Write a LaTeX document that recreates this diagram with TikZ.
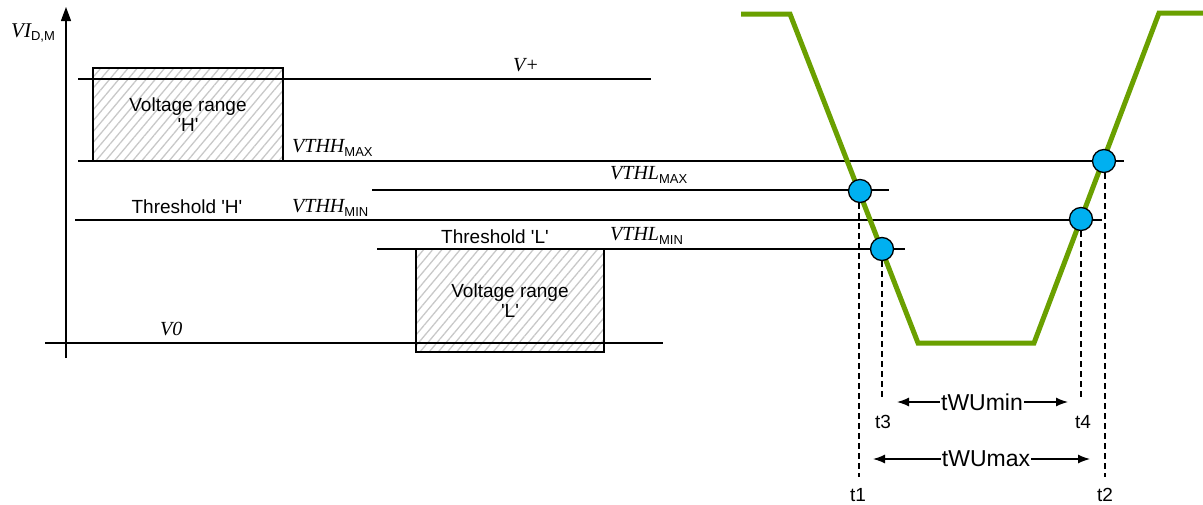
\documentclass[tikz,border=0pt]{standalone}
\usepackage{fontspec}
\setmainfont{Liberation Sans}
\newfontfamily\tms{Liberation Serif}
\usetikzlibrary{patterns.meta,arrows.meta}
\definecolor{wavegreen}{RGB}{106,160,0}
\definecolor{dotblue}{RGB}{0,176,240}
\definecolor{hatchgray}{RGB}{200,200,200}
\newcommand{\vlab}[2]{{\fontsize{20}{24}\selectfont\tms\itshape #1}\raisebox{-4pt}{\fontsize{13}{15}\selectfont #2}}
\newcommand{\sq}{\textquotesingle}
\begin{document}
\begin{tikzpicture}[x=1pt,y=-1pt,
  every node/.style={font=\fontsize{19}{21}\selectfont, inner sep=0pt},
  level/.style={line width=1.3pt, black},
  rangebox/.style={draw=black, line width=1.3pt, align=center,
     pattern={Lines[angle=50,distance=7pt,line width=1.3pt]}, pattern color=hatchgray},
  dot/.style={circle, minimum size=23pt, fill=dotblue, draw=black, line width=1.3pt},
  drop/.style={line width=1.3pt, dash pattern=on 6pt off 4pt},
  dim/.style={line width=1.3pt, -{Latex[length=12pt,width=9pt]}},
  dimlab/.style={fill=white, inner sep=1pt, font=\fontsize{23}{25}\selectfont},
  wave/.style={line width=5pt, wavegreen, line join=miter}
]
\useasboundingbox (0,0) rectangle (1203,504);

% range boxes
\node[rangebox, minimum width=190pt, minimum height=93pt] (boxH) at (188,114.5) {Voltage range\\[-1pt]\sq H\sq};
\node[rangebox, minimum width=188pt, minimum height=103pt] (boxL) at (510,300.5) {Voltage range\\[-1pt]\sq L\sq};

% axis
\coordinate (axB) at (66,358);
\coordinate (axT) at (66,7);
\draw[line width=1.3pt, -{Triangle[length=14pt,width=10pt]}] (axB) -- (axT);
\node[anchor=base west] (vi) at (11,37) {{\fontsize{21}{24}\selectfont\tms\itshape VI}\raisebox{-3pt}{\fontsize{13}{15}\selectfont D,M}};

% levels
\draw[level] (78,79) -- (651,79);
\draw[level] (78,161) -- (1124,161);
\draw[level] (372,190) -- (889,190);
\draw[level] (75,220) -- (1102,220);
\draw[level] (377,249) -- (905,249);
\draw[level] (45,343) -- (663,343);

% level labels
\node[anchor=base west] (vplus) at (513,71) {\fontsize{20}{24}\selectfont\tms\itshape V+};
\node[anchor=base west] (vthhmax) at (292,152) {\vlab{VTHH}{MAX}};
\node[anchor=base west] (vthlmax) at (610,179) {\vlab{VTHL}{MAX}};
\node[anchor=base west] (vthhmin) at (292,212) {\vlab{VTHH}{MIN}};
\node[anchor=base west] (vthlmin) at (610,240) {\vlab{VTHL}{MIN}};
\node[anchor=base west] (vzero) at (160,335) {\fontsize{20}{24}\selectfont\tms\itshape V0};
\node[anchor=base] (thH) at (187,213) {Threshold \sq H\sq};
\node[anchor=base] (thL) at (495,243) {Threshold \sq L\sq};

% waveform
\draw[wave] (741,14) -- (790,14) -- (918,343) -- (1034,343) -- (1159,13) -- (1203,13);

% crossing points
\node[dot] (c1) at (860,191) {};
\node[dot] (c3) at (882,249) {};
\node[dot] (c4) at (1081,219) {};
\node[dot] (c2) at (1104,161) {};

% drop lines
\coordinate (d1) at (859,477);
\coordinate (d3) at (882,400);
\coordinate (d4) at (1081,400);
\coordinate (d2) at (1105,477);
\draw[drop] (c1.south -| d1) -- (d1);
\draw[drop] (c3.south -| d3) -- (d3);
\draw[drop] (c4.south -| d4) -- (d4);
\draw[drop] (c2.south -| d2) -- (d2);

\node (t1) at (858,495) {t1};
\node (t3) at (883,422) {t3};
\node (t4) at (1083,422) {t4};
\node (t2) at (1105,495) {t2};

% dimension arrows
\node[dimlab] (wmin) at (982,402) {tWUmin};
\coordinate (wminL) at (897,402);
\coordinate (wminR) at (1068,402);
\draw[dim] (wmin.west) -- (wminL);
\draw[dim] (wmin.east) -- (wminR);

\node[dimlab] (wmax) at (986,459) {tWUmax};
\coordinate (wmaxL) at (873,459);
\coordinate (wmaxR) at (1090,459);
\draw[dim] (wmax.west) -- (wmaxL);
\draw[dim] (wmax.east) -- (wmaxR);
\end{tikzpicture}
\end{document}
